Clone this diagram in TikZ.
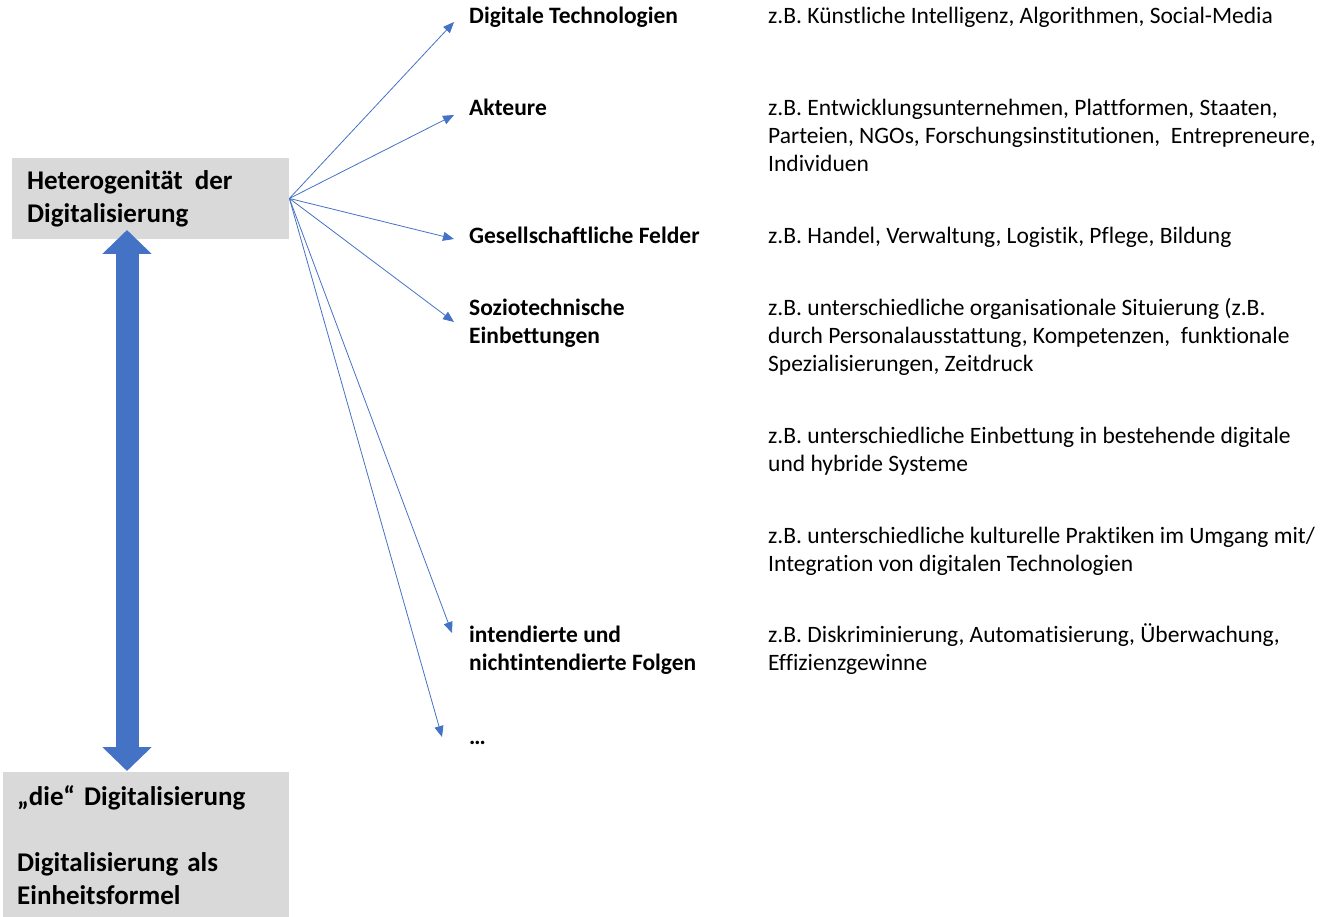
\documentclass[tikz,border=0pt]{standalone}
\usepackage{fontspec}
\setmainfont{Carlito}[Ligatures=NoCommon]
\usetikzlibrary{arrows.meta}
\definecolor{boxgray}{HTML}{D9D9D9}
\definecolor{fanblue}{HTML}{4472C4}
\tikzset{
  topic/.style={anchor=base west, inner sep=0pt, align=left,
    font=\fontsize{23.5}{28}\selectfont\bfseries},
  example/.style={anchor=base west, inner sep=0pt, align=left,
    font=\fontsize{23.5}{28}\selectfont},
  graybox/.style={fill=boxgray, anchor=north west, align=left,
    font=\fontsize{27}{33}\selectfont\bfseries},
  fan/.style={draw=fanblue, line width=0.8pt, -{Triangle[length=11pt, width=9pt]}},
  fat/.style={draw=fanblue, line width=23pt,
    {Triangle[length=24pt, width=48pt]}-{Triangle[length=24pt, width=48pt]}}
}

\begin{document}
\begin{tikzpicture}[x=1pt, y=-1pt]
\useasboundingbox (0,0) rectangle (1322,917);

\node[graybox, inner xsep=15pt, inner ysep=12pt, text width=247pt] (hetero) at (12,158)
  {Heterogenität\ \hspace{3pt}der\\Digitalisierung};
\node[graybox, inner xsep=14pt, inner ysep=13pt, text width=258pt] (einheit) at (3,772)
  {„die“ Digitalisierung\\[33pt]Digitalisierung als\\Einheitsformel};

\coordinate (up) at (127,230);
\coordinate (down) at (127,771);
\draw[fat] (up) -- (down);

\node[topic] (tech) at (469,24) {Digitale Technologien};
\node[topic] (akteure) at (469,116) {Akteure};
\node[topic] (felder) at (469,244) {Gesellschaftliche Felder};
\node[topic] (sozio) at (469,343) {Soziotechnische\\Einbettungen};
\node[topic] (folgen) at (469,670) {intendierte und\\nichtintendierte Folgen};
\node[topic] (dots) at (469,744) {…};

\node[example] (ex1) at (768,24) {z.B. Künstliche Intelligenz, Algorithmen, Social-Media};
\node[example] (ex2) at (768,172) {z.B. Entwicklungsunternehmen, Plattformen, Staaten,\\Parteien, NGOs, Forschungsinstitutionen,\ \ Entrepreneure,\\Individuen};
\node[example] (ex3) at (768,244) {z.B. Handel, Verwaltung, Logistik, Pflege, Bildung};
\node[example] (ex4) at (768,371) {z.B. unterschiedliche organisationale Situierung (z.B.\\durch Personalausstattung, Kompetenzen,\ \ funktionale\\Spezialisierungen, Zeitdruck};
\node[example] (ex5) at (768,471) {z.B. unterschiedliche Einbettung\ in bestehende\ digitale\\und hybride Systeme};
\node[example] (ex6) at (768,571) {z.B. unterschiedliche kulturelle Praktiken\ im Umgang mit/\\Integration von digitalen Technologien};
\node[example] (ex7) at (768,670) {z.B. Diskriminierung, Automatisierung, Überwachung,\\Effizienzgewinne};

\coordinate (toTech) at (454,22);
\coordinate (toAkteure) at (454,115);
\coordinate (toFelder) at (454,239);
\coordinate (toSozio) at (454,322);
\coordinate (toFolgen) at (452,633);
\coordinate (toDots) at (442,737);
\foreach \t in {toTech, toAkteure, toFelder, toSozio, toFolgen, toDots}
  \draw[fan] (hetero.east) -- (\t);
\end{tikzpicture}
\end{document}
